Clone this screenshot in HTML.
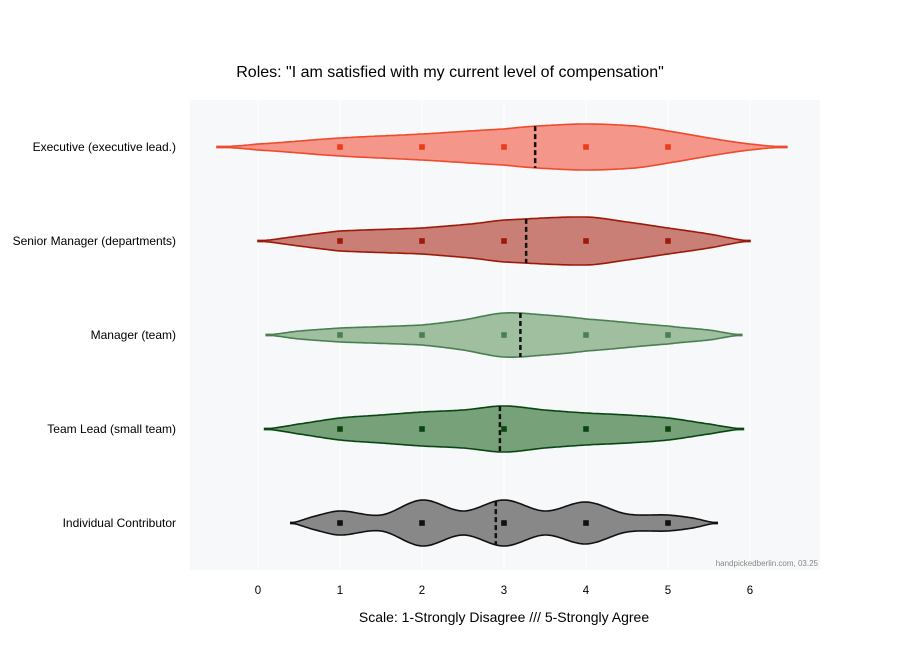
<!DOCTYPE html>
<html><head><meta charset="utf-8"><style>
body{margin:0;background:#fff;font-family:"Liberation Sans",Arial,sans-serif}
svg text{font-family:"Liberation Sans",Arial,sans-serif}
</style></head><body>
<svg id="s" width="900" height="650" xmlns="http://www.w3.org/2000/svg">
<rect x="0" y="0" width="900" height="650" fill="#fff"/>
<rect x="190" y="100" width="630" height="470" fill="#f6f8fa"/>
<g stroke="#fff" stroke-width="1">
<line x1="258" y1="100" x2="258" y2="570"/><line x1="340" y1="100" x2="340" y2="570"/><line x1="422" y1="100" x2="422" y2="570"/><line x1="504" y1="100" x2="504" y2="570"/><line x1="586" y1="100" x2="586" y2="570"/><line x1="668" y1="100" x2="668" y2="570"/><line x1="750" y1="100" x2="750" y2="570"/>
</g>
<g id="v"></g>
<text x="450" y="77" font-size="16" text-anchor="middle" fill="#000">Roles: "I am satisfied with my current level of compensation"</text>
<g font-size="12" text-anchor="end" fill="#000">
<text x="176" y="151">Executive (executive lead.)</text>
<text x="176" y="245">Senior Manager (departments)</text>
<text x="176" y="339">Manager (team)</text>
<text x="176" y="433">Team Lead (small team)</text>
<text x="176" y="527">Individual Contributor</text>
</g>
<g font-size="11.5" text-anchor="middle" fill="#000">
<text x="258" y="594">0</text><text x="340" y="594">1</text><text x="422" y="594">2</text><text x="504" y="594">3</text><text x="586" y="594">4</text><text x="668" y="594">5</text><text x="750" y="594">6</text>
</g>
<text x="504" y="622" font-size="14" text-anchor="middle" fill="#000">Scale: 1-Strongly Disagree /// 5-Strongly Agree</text>
<text x="818" y="566" font-size="8" text-anchor="end" fill="#888">handpickedberlin.com, 03.25</text>
</svg>
<script>
var X=function(v){return 258+82*v};
var data=[
{c:147,fill:"#f5968a",st:"#ef4a2c",dot:"#ee3a1e",med:3.38,k:[[-0.5,0],[0,3],[1,9],[2,13],[3,18],[3.4,21],[4,23],[4.6,21],[5,16],[5.5,9],[6,3],[6.45,0]]},
{c:241,fill:"#c97f76",st:"#9e1a08",dot:"#9e1a08",med:3.27,k:[[0,0],[0.5,5],[1,10],[2,13],[2.6,17],[3,21],[4,24],[4.5,19],[5,13],[5.5,7],[6,0]]},
{c:335,fill:"#9fbf9f",st:"#4b7f53",dot:"#4b7f53",med:3.2,k:[[0.1,0],[0.5,4],[1,7],[2,10],[2.5,15],[3,22],[3.5,20],[4,16],[5,9],[5.5,5],[5.9,0]]},
{c:429,fill:"#77a279",st:"#0a4612",dot:"#0a4612",med:2.95,k:[[0.08,0],[0.5,5],[1,11],[1.5,14],[2,17],[2.5,19],[3,23],[3.5,19],[4,16],[4.5,14],[5,11],[5.5,5],[5.92,0]]},
{c:523,fill:"#888888",st:"#111111",dot:"#111111",med:2.9,k:[[0.4,0],[0.7,7],[1,12],[1.5,8],[2,23],[2.5,12],[3,23],[3.5,12],[4,21],[4.5,9],[5,8],[5.3,5],[5.6,0]]}
];
function hw(k,x){
 for(var i=0;i<k.length-1;i++){if(x>=k[i][0]&&x<=k[i+1][0]){
  var p0=k[Math.max(i-1,0)],p1=k[i],p2=k[i+1],p3=k[Math.min(i+2,k.length-1)];
  var t=(x-p1[0])/(p2[0]-p1[0]);
  var m1=(p2[1]-p0[1])/2,m2=(p3[1]-p1[1])/2;
  var t2=t*t,t3=t2*t;
  var y=(2*t3-3*t2+1)*p1[1]+(t3-2*t2+t)*m1+(-2*t3+3*t2)*p2[1]+(t3-t2)*m2;
  return Math.max(0,y);}}
 return 0;}
var g=document.getElementById("v"),h="";
data.forEach(function(d){
 var a=d.k[0][0],b=d.k[d.k.length-1][0],N=200,top=[],bot=[];
 for(var i=0;i<=N;i++){var x=a+(b-a)*i/N,w=hw(d.k,x);w=Math.max(w,0.6);
  top.push(X(x).toFixed(1)+","+(d.c-w).toFixed(1));bot.unshift(X(x).toFixed(1)+","+(d.c+w).toFixed(1));}
 h+='<path d="M'+top.join(" L")+" L"+bot.join(" L")+'Z" fill="'+d.fill+'" stroke="'+d.st+'" stroke-width="1.6"/>';
 for(var j=1;j<=5;j++)h+='<rect x="'+(X(j)-2.8)+'" y="'+(d.c-2.8)+'" width="5.6" height="5.6" fill="'+d.dot+'"/>';
 var mw=hw(d.k,d.med);
 h+='<line x1="'+X(d.med)+'" x2="'+X(d.med)+'" y1="'+(d.c-mw)+'" y2="'+(d.c+mw)+'" stroke="#111" stroke-width="2.5" stroke-dasharray="5,3"/>';
});
g.innerHTML=h;
</script>
</body></html>
